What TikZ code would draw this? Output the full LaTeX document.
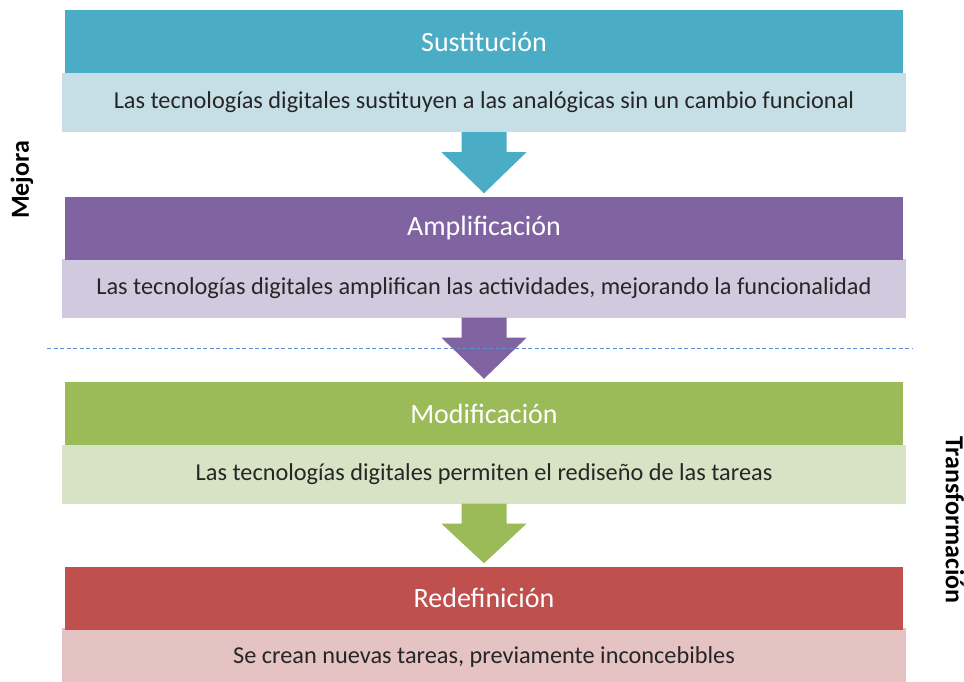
\documentclass[tikz,border=0pt]{standalone}
\usepackage{fontspec}
\setmainfont{Carlito}
\definecolor{cA}{HTML}{4BACC6}\definecolor{lA}{HTML}{C6DFE7}
\definecolor{cB}{HTML}{8064A2}\definecolor{lB}{HTML}{D1C9DD}
\definecolor{cC}{HTML}{9BBB59}\definecolor{lC}{HTML}{D8E3C5}
\definecolor{cD}{HTML}{C0504D}\definecolor{lD}{HTML}{E5C3C3}
\definecolor{dashc}{HTML}{5B8FD0}
\begin{document}
\begin{tikzpicture}[x=1pt,y=-1pt,
  head/.style={fill=#1,minimum width=838pt,minimum height=63pt,inner sep=0pt,text=white,font=\fontsize{28}{32}\selectfont},
  desc/.style={fill=#1,minimum width=844pt,minimum height=59pt,inner sep=0pt,text=black!85,font=\fontsize{24.3}{28}\selectfont},
  side/.style={font=\bfseries\fontsize{26}{30}\selectfont,inner sep=0pt}]
\useasboundingbox (0,0) rectangle (964,681);
\node[desc=lA] (d1) at (484,102.5) {Las tecnologías digitales sustituyen a las analógicas sin un cambio funcional};
\node[head=cA] (h1) at (484,41.5) {Sustitución};
\node[desc=lB] (d2) at (484,288) {Las tecnologías digitales amplifican las actividades, mejorando la funcionalidad};
\node[head=cB] (h2) at (484,228) {Amplificación};
\node[desc=lC] (d3) at (484,474) {Las tecnologías digitales permiten el rediseño de las tareas};
\node[head=cC] (h3) at (484,413.5) {Modificación};
\node[desc=lD] (d4) at (484,657.5) {Se crean nuevas tareas, previamente inconcebibles};
\node[head=cD] (h4) at (484,598) {Redefinición};
% block arrows
\foreach \a/\b/\c in {d1/h2/cA,d2/h3/cB,d3/h4/cC}{
  \fill[\c] ([xshift=-22.5pt]\a.south) -- ([xshift=22.5pt]\a.south)
    -- ([xshift=22.5pt,yshift=-20pt]\a.south) -- ([xshift=42.5pt,yshift=-20pt]\a.south)
    -- ([yshift=3pt]\b.north) -- ([xshift=-42.5pt,yshift=-20pt]\a.south)
    -- ([xshift=-22.5pt,yshift=-20pt]\a.south) -- cycle;
}
\coordinate (dl) at (47,348);
\coordinate (dr) at (912,348);
\draw[dashc,line width=1pt,dash pattern=on 4pt off 2.5pt] (dl) -- (dr);
\node[side,rotate=90] (mej) at (22,180) {Mejora};
\node[side,rotate=-90] (tra) at (955,520) {Transformación};
\end{tikzpicture}
\end{document}
